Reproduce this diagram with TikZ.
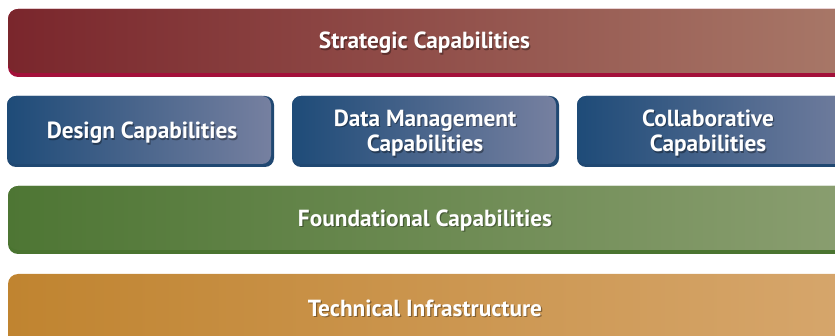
\documentclass[tikz,border=0pt]{standalone}
\usepackage{fontspec}
\setmainfont{PT Sans}
\usetikzlibrary{calc}
\definecolor{redL}{RGB}{122,38,44}
\definecolor{redR}{RGB}{168,120,104}
\definecolor{redLine}{RGB}{163,16,58}
\definecolor{blueL}{RGB}{30,75,120}
\definecolor{blueR}{RGB}{118,128,160}
\definecolor{blueEdge}{RGB}{32,72,114}
\definecolor{greenL}{RGB}{78,118,52}
\definecolor{greenR}{RGB}{138,158,112}
\definecolor{greenLine}{RGB}{74,116,48}
\definecolor{orangeL}{RGB}{192,132,48}
\definecolor{orangeR}{RGB}{214,166,108}
\tikzset{
  lbl/.style={text=white, font=\bfseries\fontsize{23.3}{25.5}\selectfont, align=center, inner sep=0pt},
  lblshadow/.style={text=black, text opacity=0.35, font=\bfseries\fontsize{23.3}{25.5}\selectfont, align=center, inner sep=0pt},
  bar/.style={rounded corners=10pt},
  box/.style={rounded corners=9pt}
}
\newcommand{\mylabel}[3]{%
  \node[lblshadow] (#1s) at ($(#2)+(1.2,1.4)$) {#3};
  \node[lbl] (#1) at (#2) {#3};
}
\begin{document}
\begin{tikzpicture}[x=1pt,y=-1pt]
\useasboundingbox (0,0) rectangle (835,336);
\clip (0,0) rectangle (835,336);
% Strategic
\fill[redLine, bar] (8,9) rectangle (850,77);
\shade[bar, left color=redL, right color=redR] (8,9) rectangle (850,73);
% Blue boxes
\fill[blueEdge, box] (7,96) rectangle (274,167);
\shade[box, left color=blueL, right color=blueR] (7,96) rectangle (271,164);
\fill[blueEdge, box] (292,96) rectangle (559,167);
\shade[box, left color=blueL, right color=blueR] (292,96) rectangle (556,164);
\fill[blueEdge, box] (577,96) rectangle (870,167);
\shade[box, left color=blueL, right color=blueR] (577,96) rectangle (867,164);
% Green
\fill[greenLine, bar] (8,186) rectangle (850,254);
\shade[bar, left color=greenL, right color=greenR] (8,186) rectangle (850,250);
% Orange
\shade[bar, left color=orangeL, right color=orangeR] (8,274) rectangle (850,350);
% Labels
\mylabel{strat}{424.5,43}{Strategic Capabilities}
\mylabel{design}{142,133}{Design Capabilities}
\mylabel{data}{425,133}{Data Management\\Capabilities}
\mylabel{collab}{708,133}{Collaborative\\Capabilities}
\mylabel{found}{425,220.5}{Foundational Capabilities}
\mylabel{tech}{425,308}{Technical Infrastructure}
\end{tikzpicture}
\end{document}
